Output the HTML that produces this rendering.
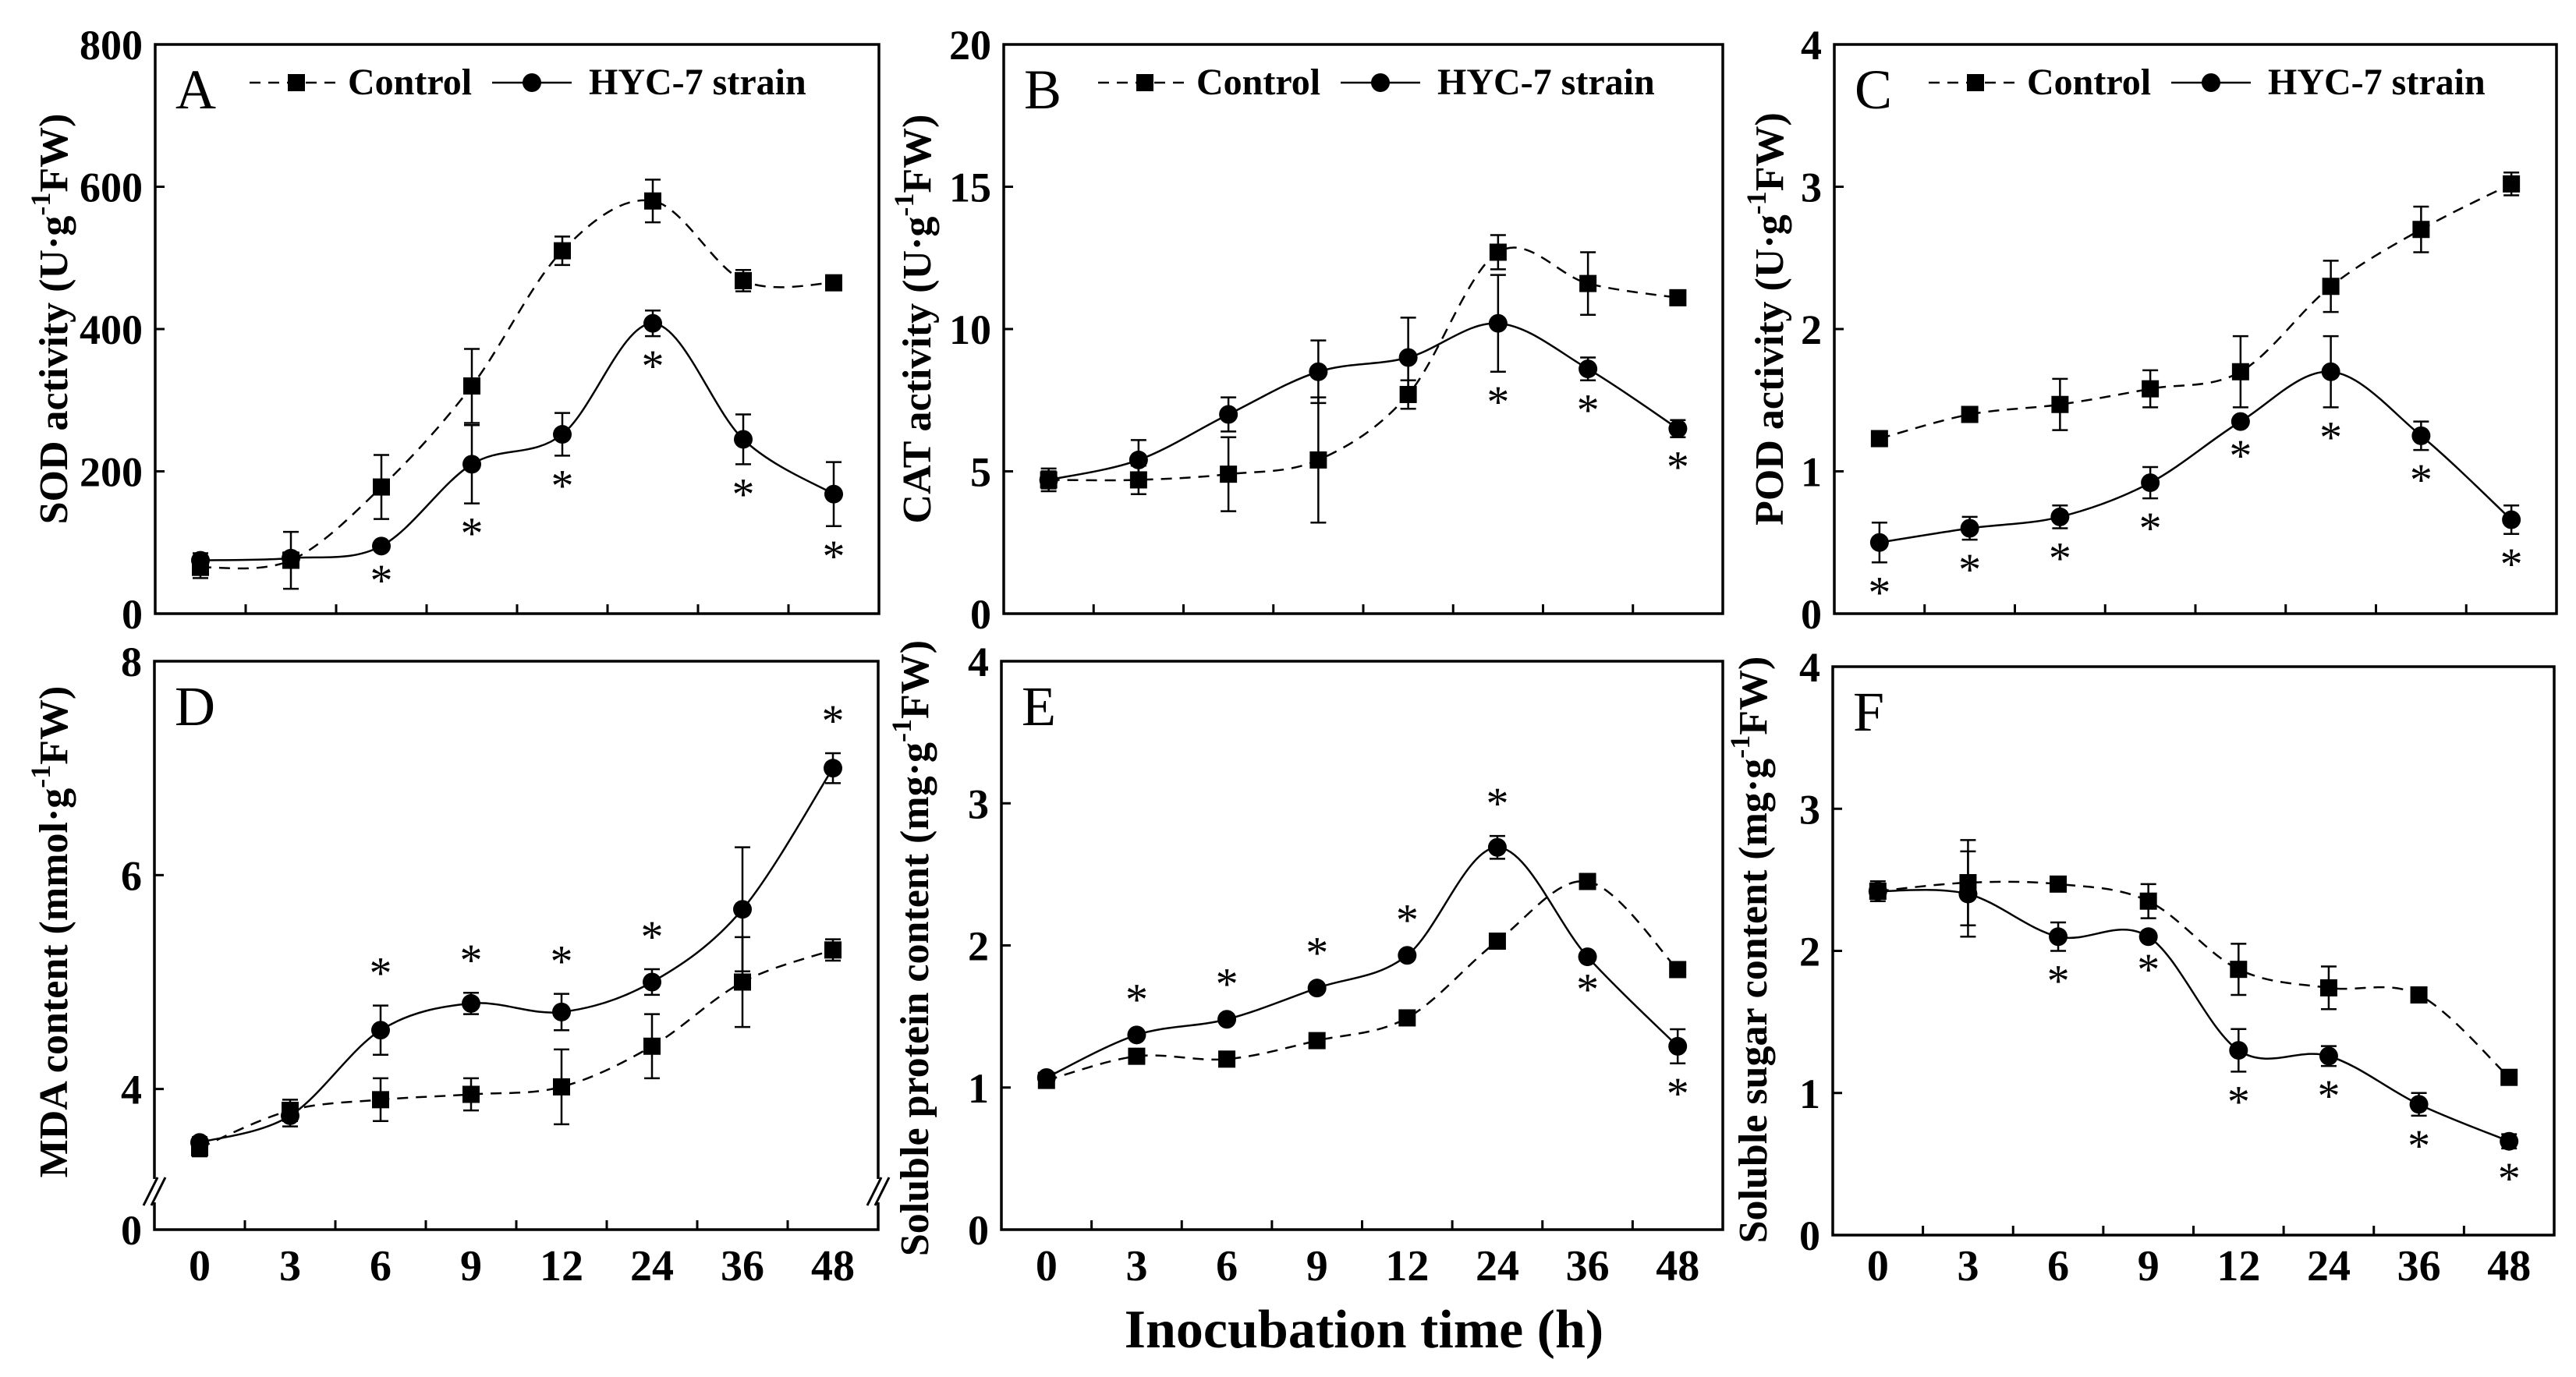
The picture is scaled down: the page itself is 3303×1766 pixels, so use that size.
<!DOCTYPE html>
<html><head><meta charset="utf-8"><style>
html,body{margin:0;padding:0;background:#fff;}
svg{display:block;font-family:"Liberation Serif",serif;}
</style></head><body>
<svg id="fig" width="3303" height="1766" viewBox="0 0 3303 1766" xmlns="http://www.w3.org/2000/svg">
<text x="1749" y="1728" font-size="70" font-weight="bold" text-anchor="middle">Inocubation time (h)</text>
</svg>
<script>
const categories = ["0","3","6","9","12","24","36","48"];
const sodControl = [65,75,178,320,510,580,468,465];
const sodControlErr = [15,40,45,52,20,30,15,5];
const sodHyc = [75,78,95,210,252,408,245,168];
const sodHycErr = [10,8,6,55,30,18,35,45];
const sodStars = [0,0,1,1,1,1,1,1];
const catControl = [4.7,4.7,4.9,5.4,7.7,12.7,11.6,11.1];
const catControlErr = [0.4,0.5,1.3,2.2,0.5,0.6,1.1,0.1];
const catHyc = [4.7,5.4,7.0,8.5,9.0,10.2,8.6,6.5];
const catHycErr = [0.3,0.7,0.6,1.1,1.4,1.7,0.4,0.3];
const catStars = [0,0,0,0,0,1,1,1];
const podControl = [1.23,1.4,1.47,1.58,1.7,2.3,2.7,3.02];
const podControlErr = [0.03,0.05,0.18,0.13,0.25,0.18,0.16,0.08];
const podHyc = [0.5,0.6,0.68,0.92,1.35,1.7,1.25,0.66];
const podHycErr = [0.14,0.08,0.08,0.11,0.03,0.25,0.1,0.1];
const podStars = [1,1,1,1,1,1,1,1];
const mdaControl = [3.45,3.8,3.9,3.95,4.02,4.4,5.0,5.3];
const mdaControlErr = [0.08,0.1,0.2,0.15,0.35,0.3,0.42,0.1];
const mdaHyc = [3.5,3.75,4.55,4.8,4.72,5.0,5.68,7.0];
const mdaHycErr = [0.05,0.1,0.23,0.1,0.17,0.12,0.58,0.14];
const mdaStars = [0,0,-1,-1,-1,-1,0,-1];
const protControl = [1.05,1.22,1.2,1.33,1.49,2.03,2.45,1.83];
const protControlErr = [0.02,0.02,0.02,0.02,0.02,0.02,0.02,0.02];
const protHyc = [1.07,1.37,1.48,1.7,1.93,2.69,1.92,1.29];
const protHycErr = [0.02,0.02,0.02,0.02,0.02,0.08,0.02,0.12];
const protStars = [0,-1,-1,-1,-1,-1,1,1];
const sugControl = [2.42,2.48,2.47,2.35,1.87,1.74,1.69,1.11];
const sugControlErr = [0.05,0.3,0.02,0.12,0.18,0.15,0.05,0.02];
const sugHyc = [2.42,2.4,2.1,2.1,1.3,1.26,0.92,0.66];
const sugHycErr = [0.07,0.3,0.1,0.02,0.15,0.07,0.08,0.05];
const sugStars = [0,0,1,1,1,1,1,1];

const svg = document.getElementById('fig');
const NS = 'http://www.w3.org/2000/svg';
function mk(tag, attrs, parent){const e=document.createElementNS(NS,tag);for(const k in attrs)e.setAttribute(k,attrs[k]);(parent||svg).appendChild(e);return e;}

function spline(pts){
  let d='M'+pts[0][0]+','+pts[0][1];
  for(let i=0;i<pts.length-1;i++){
    const p0=pts[Math.max(0,i-1)],p1=pts[i],p2=pts[i+1],p3=pts[Math.min(pts.length-1,i+2)];
    const t=6;
    const c1=[p1[0]+(p2[0]-p0[0])/t,p1[1]+(p2[1]-p0[1])/t];
    const c2=[p2[0]-(p3[0]-p1[0])/t,p2[1]-(p3[1]-p1[1])/t];
    d+=' C'+c1[0]+','+c1[1]+' '+c2[0]+','+c2[1]+' '+p2[0]+','+p2[1];
  }
  return d;
}

function panel(cfg){
  const g=mk('g',{});
  
  
  const {x0,x1,y0,y1,vmin,vmax}=cfg;
  const xs=i=>x0+(i+0.5)*(x1-x0)/categories.length;
  const ys=v=>y1-(v-vmin)/(vmax-vmin)*(y1-y0);
  const fr=mk('rect',{x:x0,y:y0,width:x1-x0,height:y1-y0,fill:'none',stroke:'#000','stroke-width':3.5},g);
  
  
  for(let i=1;i<categories.length;i++){
    const xx=x0+i*(x1-x0)/categories.length;
    mk('line',{x1:xx,x2:xx,y1:y1,y2:y1-12,stroke:'#000','stroke-width':3},g);
  }
  categories.forEach((c,i)=>{
    const t=mk('text',{x:xs(i),y:cfg.xlabY,'font-size':56,'font-weight':'bold','text-anchor':'middle'},g);
    t.textContent=c;
    
    
  });
  cfg.yticks.forEach((v,k)=>{
    const yy=(cfg.yzeroBreak && v===0)?y1:ys(v);
    if(v!==vmin && v!==vmax && !(cfg.yzeroBreak&&v===0)) mk('line',{x1:x0,x2:x0+12,y1:yy,y2:yy,stroke:'#000','stroke-width':3},g);
    const t=mk('text',{x:x0-16,y:yy+19,'font-size':54,'font-weight':'bold','text-anchor':'end'},g);
    t.textContent=cfg.ylabels[k];
    
    
  });
  if(cfg.yzeroBreak){
    const by=y1-45;
    [x0,x1].forEach(xx=>{
      mk('rect',{x:xx-6,y:by-20,width:12,height:30,fill:'#fff'},g);
      mk('line',{x1:xx-14,y1:by+14,x2:xx+4,y2:by-22,stroke:'#000','stroke-width':3},g);
      mk('line',{x1:xx-4,y1:by+14,x2:xx+14,y2:by-22,stroke:'#000','stroke-width':3},g);
    });
  }
  const yt=mk('text',{x:0,y:0,'font-size':52,'font-weight':'bold','text-anchor':'middle',transform:`translate(${cfg.ytx},${cfg.yty}) rotate(-90)`},g);
  
  
  yt.innerHTML=cfg.ytitle+' (<tspan>'+cfg.unit+'·g</tspan><tspan dy="-22" font-size="36">-1</tspan><tspan dy="22">FW)</tspan>';
  const lt=mk('text',{x:x0+26,y:y0+82,'font-size':72},g);
  lt.textContent=cfg.letter;
  
  
  if(cfg.legend){
    const ly=y0+64;
    const lg=mk('g',{},g);
    
    
    mk('line',{x1:x0+121,x2:x0+241,y1:ly-15,y2:ly-15,stroke:'#000','stroke-width':2.5,'stroke-dasharray':'14,10'},lg);
    mk('rect',{x:x0+170,y:ly-26,width:22,height:22,fill:'#000'},lg);
    const t1=mk('text',{x:x0+247,y:ly,'font-size':48,'font-weight':'bold'},lg);t1.textContent='Control';
    
    
    mk('line',{x1:x0+432,x2:x0+534,y1:ly-15,y2:ly-15,stroke:'#000','stroke-width':2.5},lg);
    mk('circle',{cx:x0+483,cy:ly-15,r:12,fill:'#000'},lg);
    const t2=mk('text',{x:x0+556,y:ly,'font-size':48,'font-weight':'bold'},lg);t2.textContent='HYC-7 strain';
    
    
  }
  const series=[{v:cfg.ctrl,e:cfg.ctrlErr,dash:'14,10',m:'sq',n:'control'},{v:cfg.hyc,e:cfg.hycErr,dash:null,m:'ci',n:'hyc7'}];
  series.forEach(s=>{
    const pts=s.v.map((v,i)=>[xs(i),ys(v)]);
    const p=mk('path',{d:spline(pts),fill:'none',stroke:'#000','stroke-width':2.5},g);
    if(s.dash)p.setAttribute('stroke-dasharray',s.dash);
    
    
    s.v.forEach((v,i)=>{
      const cx=xs(i),top=ys(v+s.e[i]),bot=ys(v-s.e[i]);
      mk('line',{x1:cx,x2:cx,y1:top,y2:bot,stroke:'#000','stroke-width':2.5},g);
      mk('line',{x1:cx-10,x2:cx+10,y1:top,y2:top,stroke:'#000','stroke-width':2.5},g);
      mk('line',{x1:cx-10,x2:cx+10,y1:bot,y2:bot,stroke:'#000','stroke-width':2.5},g);
      let mkEl;
      if(s.m==='sq') mkEl=mk('rect',{x:cx-11,y:ys(v)-11,width:22,height:22,fill:'#000'},g);
      else mkEl=mk('circle',{cx:cx,cy:ys(v),r:12,fill:'#000'},g);
      
      
    });
  });
  cfg.stars.forEach((st,i)=>{
    if(!st)return;
    const v=cfg.hyc[i],e=cfg.hycErr[i];
    const yy= st>0 ? ys(v-e)+58 : ys(v+e)-22;
    const t=mk('text',{x:xs(i),y:yy,'font-size':58,'text-anchor':'middle'},g);
    t.textContent='*';
    
    
  });
}

const r1={y0:57,y1:787,xlabY:-100};
panel({letter:'A',x0:199,x1:1127,...r1,vmin:0,vmax:800,yticks:[0,200,400,600,800],ylabels:['0','200','400','600','800'],ctrl:sodControl,ctrlErr:sodControlErr,hyc:sodHyc,hycErr:sodHycErr,stars:sodStars,legend:true,ytitle:'SOD activity',unit:'U',ytx:86,yty:409});
panel({letter:'B',x0:1287,x1:2209,...r1,vmin:0,vmax:20,yticks:[0,5,10,15,20],ylabels:['0','5','10','15','20'],ctrl:catControl,ctrlErr:catControlErr,hyc:catHyc,hycErr:catHycErr,stars:catStars,legend:true,ytitle:'CAT activity',unit:'U',ytx:1193,yty:409});
panel({letter:'C',x0:2352,x1:3278,...r1,vmin:0,vmax:4,yticks:[0,1,2,3,4],ylabels:['0','1','2','3','4'],ctrl:podControl,ctrlErr:podControlErr,hyc:podHyc,hycErr:podHycErr,stars:podStars,legend:true,ytitle:'POD activity',unit:'U',ytx:2286,yty:409});
panel({letter:'D',x0:198,x1:1126,y0:848,y1:1577,xlabY:1642,vmin:2.685,vmax:8,yzeroBreak:true,yticks:[0,4,6,8],ylabels:['0','4','6','8'],ctrl:mdaControl,ctrlErr:mdaControlErr,hyc:mdaHyc,hycErr:mdaHycErr,stars:mdaStars,legend:false,ytitle:'MDA content',unit:'mmol',ytx:86,yty:1195});
panel({letter:'E',x0:1284,x1:2209,y0:848,y1:1577,xlabY:1642,vmin:0,vmax:4,yticks:[0,1,2,3,4],ylabels:['0','1','2','3','4'],ctrl:protControl,ctrlErr:protControlErr,hyc:protHyc,hycErr:protHycErr,stars:protStars,legend:false,ytitle:'Soluble protein content',unit:'mg',ytx:1190,yty:1216});
panel({letter:'F',x0:2350,x1:3275,y0:855,y1:1584,xlabY:1642,vmin:0,vmax:4,yticks:[0,1,2,3,4],ylabels:['0','1','2','3','4'],ctrl:sugControl,ctrlErr:sugControlErr,hyc:sugHyc,hycErr:sugHycErr,stars:sugStars,legend:false,ytitle:'Soluble sugar content',unit:'mg',ytx:2265,yty:1218});
</script>
</body></html>
